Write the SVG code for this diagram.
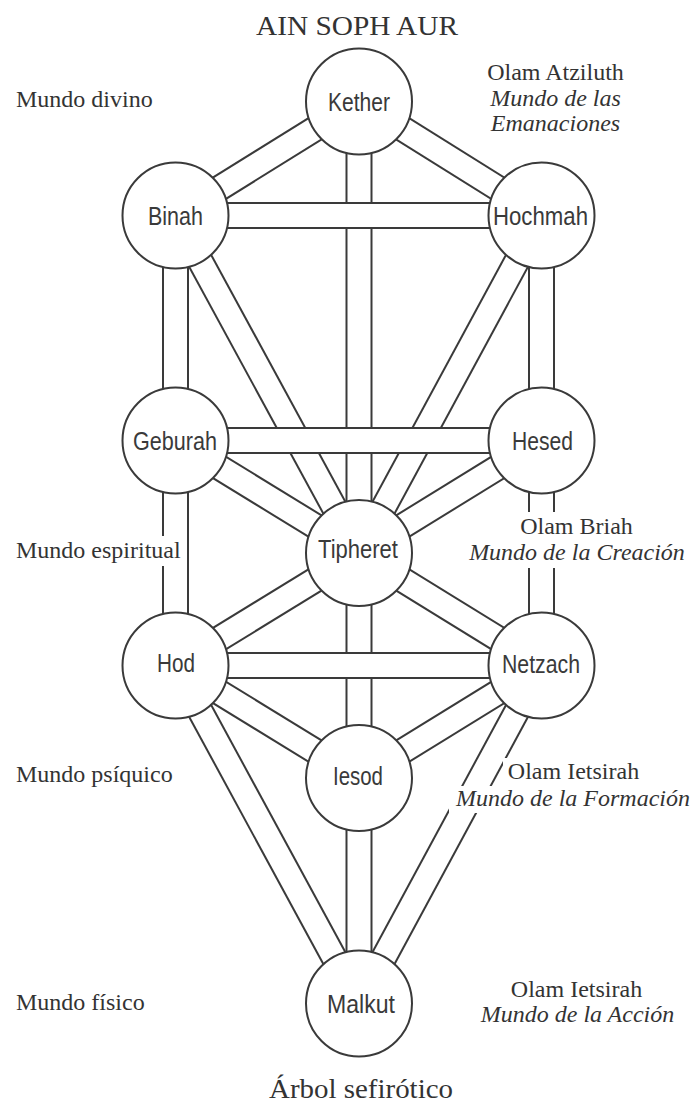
<svg xmlns="http://www.w3.org/2000/svg" width="697" height="1106" viewBox="0 0 697 1106">
<style>
.po{stroke:#3a3a3a;stroke-width:27;stroke-linecap:butt;fill:none}
.pi{stroke:#fff;stroke-width:23;stroke-linecap:butt;fill:none}
.node circle{fill:#fff;stroke:#3a3a3a;stroke-width:2}
.nl{font-family:"Liberation Sans Narrow","Liberation Sans",Arial,sans-serif;font-size:25px;fill:#3a3a3a;text-anchor:middle}
.sr{font-family:"Liberation Serif","Times New Roman",serif;font-size:24px;fill:#333}
.it{font-style:italic}
.mid{text-anchor:middle}
.bg{fill:#fff}
</style>
<rect width="697" height="1106" fill="#fff"/>
<g id="connectors">
  <g><line class="po" x1="359" y1="101.5" x2="175.5" y2="215.5"/><line class="pi" x1="359" y1="101.5" x2="175.5" y2="215.5"/></g>
  <g><line class="po" x1="359" y1="101.5" x2="541.5" y2="215.5"/><line class="pi" x1="359" y1="101.5" x2="541.5" y2="215.5"/></g>
  <g><line class="po" x1="359" y1="101.5" x2="359" y2="553"/><line class="pi" x1="359" y1="101.5" x2="359" y2="553"/></g>
  <g><line class="po" x1="175.5" y1="215.5" x2="175.5" y2="440.5"/><line class="pi" x1="175.5" y1="215.5" x2="175.5" y2="440.5"/></g>
  <g><line class="po" x1="175.5" y1="215.5" x2="359" y2="553"/><line class="pi" x1="175.5" y1="215.5" x2="359" y2="553"/></g>
  <g><line class="po" x1="541.5" y1="215.5" x2="541.5" y2="440.5"/><line class="pi" x1="541.5" y1="215.5" x2="541.5" y2="440.5"/></g>
  <g><line class="po" x1="541.5" y1="215.5" x2="359" y2="553"/><line class="pi" x1="541.5" y1="215.5" x2="359" y2="553"/></g>
  <g><line class="po" x1="175.5" y1="440.5" x2="359" y2="553"/><line class="pi" x1="175.5" y1="440.5" x2="359" y2="553"/></g>
  <g><line class="po" x1="541.5" y1="440.5" x2="359" y2="553"/><line class="pi" x1="541.5" y1="440.5" x2="359" y2="553"/></g>
  <g><line class="po" x1="175.5" y1="440.5" x2="175.5" y2="665.5"/><line class="pi" x1="175.5" y1="440.5" x2="175.5" y2="665.5"/></g>
  <g><line class="po" x1="541.5" y1="440.5" x2="541.5" y2="665.5"/><line class="pi" x1="541.5" y1="440.5" x2="541.5" y2="665.5"/></g>
  <g><line class="po" x1="359" y1="553" x2="175.5" y2="665.5"/><line class="pi" x1="359" y1="553" x2="175.5" y2="665.5"/></g>
  <g><line class="po" x1="359" y1="553" x2="541.5" y2="665.5"/><line class="pi" x1="359" y1="553" x2="541.5" y2="665.5"/></g>
  <g><line class="po" x1="359" y1="553" x2="359" y2="778"/><line class="pi" x1="359" y1="553" x2="359" y2="778"/></g>
  <g><line class="po" x1="175.5" y1="665.5" x2="359" y2="778"/><line class="pi" x1="175.5" y1="665.5" x2="359" y2="778"/></g>
  <g><line class="po" x1="541.5" y1="665.5" x2="359" y2="778"/><line class="pi" x1="541.5" y1="665.5" x2="359" y2="778"/></g>
  <g><line class="po" x1="175.5" y1="665.5" x2="359" y2="1003.5"/><line class="pi" x1="175.5" y1="665.5" x2="359" y2="1003.5"/></g>
  <g><line class="po" x1="541.5" y1="665.5" x2="359" y2="1003.5"/><line class="pi" x1="541.5" y1="665.5" x2="359" y2="1003.5"/></g>
  <g><line class="po" x1="359" y1="778" x2="359" y2="1003.5"/><line class="pi" x1="359" y1="778" x2="359" y2="1003.5"/></g>
  <g><line class="po" x1="175.5" y1="215.5" x2="541.5" y2="215.5"/><line class="pi" x1="175.5" y1="215.5" x2="541.5" y2="215.5"/></g>
  <g><line class="po" x1="175.5" y1="440.5" x2="541.5" y2="440.5"/><line class="pi" x1="175.5" y1="440.5" x2="541.5" y2="440.5"/></g>
  <g><line class="po" x1="175.5" y1="665.5" x2="541.5" y2="665.5"/><line class="pi" x1="175.5" y1="665.5" x2="541.5" y2="665.5"/></g>
</g>
<g id="nodes">
  <g id="kether" class="node"><circle cx="359" cy="101.5" r="53"/><text class="nl" x="359" y="110.5" textLength="62" lengthAdjust="spacingAndGlyphs">Kether</text></g>
  <g id="binah" class="node"><circle cx="175.5" cy="215.5" r="53"/><text class="nl" x="175.5" y="224.5" textLength="55" lengthAdjust="spacingAndGlyphs">Binah</text></g>
  <g id="hochmah" class="node"><circle cx="541.5" cy="215.5" r="53"/><text class="nl" x="540.5" y="225" textLength="95" lengthAdjust="spacingAndGlyphs">Hochmah</text></g>
  <g id="geburah" class="node"><circle cx="175.5" cy="440.5" r="53"/><text class="nl" x="175" y="449.5" textLength="84" lengthAdjust="spacingAndGlyphs">Geburah</text></g>
  <g id="hesed" class="node"><circle cx="541.5" cy="440.5" r="53"/><text class="nl" x="542.5" y="450" textLength="61" lengthAdjust="spacingAndGlyphs">Hesed</text></g>
  <g id="tipheret" class="node"><circle cx="359" cy="553" r="53"/><text class="nl" x="358" y="558" textLength="80" lengthAdjust="spacingAndGlyphs">Tipheret</text></g>
  <g id="hod" class="node"><circle cx="175.5" cy="665.5" r="53"/><text class="nl" x="176" y="672" textLength="38" lengthAdjust="spacingAndGlyphs">Hod</text></g>
  <g id="netzach" class="node"><circle cx="541.5" cy="665.5" r="53"/><text class="nl" x="541" y="672.5" textLength="78" lengthAdjust="spacingAndGlyphs">Netzach</text></g>
  <g id="iesod" class="node"><circle cx="359" cy="778" r="53"/><text class="nl" x="358" y="785" textLength="50" lengthAdjust="spacingAndGlyphs">Iesod</text></g>
  <g id="malkut" class="node"><circle cx="359" cy="1003.5" r="53"/><text class="nl" x="361" y="1012.5" textLength="68" lengthAdjust="spacingAndGlyphs">Malkut</text></g>
</g>
<g id="labels">
  <text class="sr mid" x="357" y="35" style="font-size:28px" textLength="202" lengthAdjust="spacingAndGlyphs">AIN SOPH AUR</text>
  <text class="sr" x="16" y="107">Mundo divino</text>
  <text class="sr mid" x="555.5" y="80">Olam Atziluth</text>
  <text class="sr it mid" x="555.5" y="106">Mundo de las</text>
  <text class="sr it mid" x="555.5" y="131">Emanaciones</text>
  <rect class="bg" x="10" y="536" width="174" height="30"/>
  <text class="sr" x="16" y="558">Mundo espiritual</text>
  <rect class="bg" x="462" y="512" width="232" height="56"/>
  <text class="sr mid" x="576.5" y="534">Olam Briah</text>
  <text class="sr it mid" x="577" y="560">Mundo de la Creación</text>
  <text class="sr" x="16" y="782">Mundo psíquico</text>
  <rect class="bg" x="503" y="758" width="142" height="28"/>
  <rect class="bg" x="449" y="786" width="248" height="27"/>
  <text class="sr mid" x="573.5" y="779">Olam Ietsirah</text>
  <text class="sr it mid" x="573" y="806">Mundo de la Formación</text>
  <text class="sr" x="16" y="1010">Mundo físico</text>
  <text class="sr mid" x="576.5" y="997">Olam Ietsirah</text>
  <text class="sr it mid" x="577.5" y="1022">Mundo de la Acción</text>
  <text class="sr mid" x="361" y="1098" style="font-size:28px" textLength="184" lengthAdjust="spacingAndGlyphs">Árbol sefirótico</text>
</g>
</svg>
